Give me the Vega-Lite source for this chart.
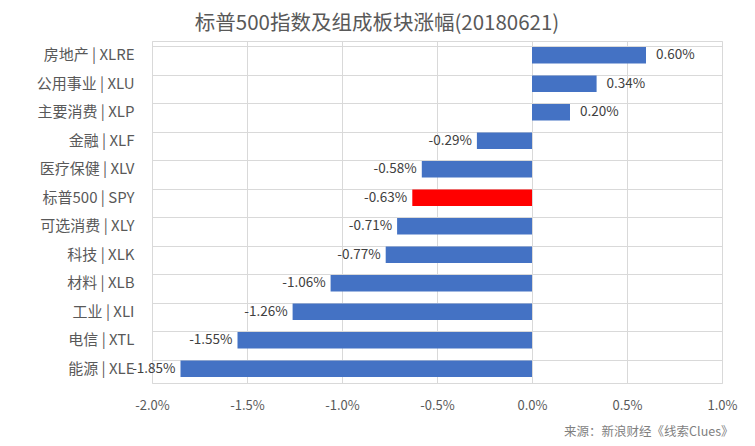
{
  "$schema": "https://vega.github.io/schema/vega-lite/v6.json",
  "width": 570,
  "height": 342,
  "autosize": {"type": "none"},
  "padding": {"left": 152, "top": 41, "right": 33, "bottom": 63},
  "background": "white",
  "title": {
    "text": "标普500指数及组成板块涨幅(20180621)",
    "font": "Noto Sans CJK SC",
    "fontSize": 20.5,
    "fontWeight": "normal",
    "color": "#595959",
    "anchor": "middle",
    "offset": 7,
    "dx": -60
  },
  "config": {
    "view": {"stroke": "#D9D9D9", "strokeWidth": 1},
    "font": "Noto Sans CJK SC"
  },
  "data": {
    "values": [
      {"sector": "房地产 | XLRE", "value": 0.0060, "type": "sector"},
      {"sector": "公用事业 | XLU", "value": 0.0034, "type": "sector"},
      {"sector": "主要消费 | XLP", "value": 0.0020, "type": "sector"},
      {"sector": "金融 | XLF", "value": -0.0029, "type": "sector"},
      {"sector": "医疗保健 | XLV", "value": -0.0058, "type": "sector"},
      {"sector": "标普500 | SPY", "value": -0.0063, "type": "index"},
      {"sector": "可选消费 | XLY", "value": -0.0071, "type": "sector"},
      {"sector": "科技 | XLK", "value": -0.0077, "type": "sector"},
      {"sector": "材料 | XLB", "value": -0.0106, "type": "sector"},
      {"sector": "工业 | XLI", "value": -0.0126, "type": "sector"},
      {"sector": "电信 | XTL", "value": -0.0155, "type": "sector"},
      {"sector": "能源 | XLE", "value": -0.0185, "type": "sector"}
    ]
  },
  "transform": [
    {"calculate": "replace(format(datum.value, '.2%'), '\u2212', '-')", "as": "label"}
  ],
  "encoding": {
    "y": {
      "field": "sector",
      "type": "nominal",
      "sort": null,
      "scale": {"paddingInner": 0.42, "paddingOuter": 0.21},
      "axis": {
        "title": null,
        "domain": false,
        "ticks": false,
        "grid": true,
        "gridColor": "#D9D9D9",
        "bandPosition": 0,
        "labelFontSize": 15,
        "labelColor": "#595959",
        "labelPadding": 18,
        "labelFont": "Noto Sans CJK SC"
      }
    },
    "x": {
      "field": "value",
      "type": "quantitative",
      "scale": {"domain": [-0.02, 0.01], "nice": false},
      "axis": {
        "format": ".1%",
        "labelExpr": "replace(datum.label, '\u2212', '-')",
        "values": [-0.02, -0.015, -0.01, -0.005, 0, 0.005, 0.01],
        "labelFlush": false,
        "domain": false,
        "ticks": false,
        "grid": true,
        "gridColor": "#D9D9D9",
        "labelFontSize": 13,
        "labelColor": "#595959",
        "labelPadding": 16,
        "labelFont": "Noto Sans CJK SC",
        "title": "来源：新浪财经《线索Clues》",
        "titleFont": "Noto Sans CJK SC",
        "titleFontSize": 12.5,
        "titleFontWeight": "normal",
        "titleColor": "#7F7F7F",
        "titleAnchor": "end",
        "titleAlign": "right",
        "titleX": 581,
        "titlePadding": 13
      }
    }
  },
  "layer": [
    {
      "mark": {"type": "bar"},
      "encoding": {
        "color": {
          "field": "type",
          "type": "nominal",
          "scale": {"domain": ["sector", "index"], "range": ["#4472C4", "#FF0000"]},
          "legend": null
        }
      }
    },
    {
      "transform": [{"filter": "datum.value >= 0"}],
      "mark": {"type": "text", "align": "left", "dx": 10, "fontSize": 13.5, "color": "#404040", "font": "Noto Sans CJK SC"},
      "encoding": {"text": {"field": "label", "type": "nominal"}}
    },
    {
      "transform": [{"filter": "datum.value < 0"}],
      "mark": {"type": "text", "align": "right", "dx": -5, "fontSize": 13.5, "color": "#404040", "font": "Noto Sans CJK SC"},
      "encoding": {"text": {"field": "label", "type": "nominal"}}
    }
  ]
}
